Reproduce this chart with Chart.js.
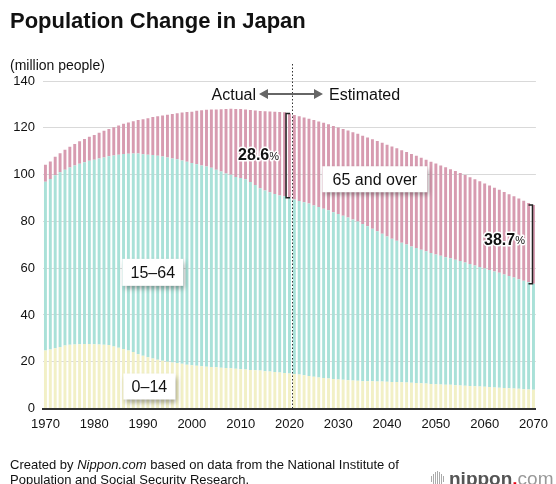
<!DOCTYPE html>
<html>
<head>
<meta charset="utf-8">
<script src="https://cdn.jsdelivr.net/npm/chart.js@4"></script>
<style>
  body { margin: 0; background: #fff; }
  #wrap { position: relative; width: 556px; height: 484px; overflow: hidden; font-family: 'Liberation Sans', Arial, Helvetica, sans-serif; color: #111; }
  #c { position: absolute; left: 0; top: 0; }
  .title { position: absolute; left: 10px; top: 10px; font-size: 22px; line-height: 22px; font-weight: bold; }
  .unit { position: absolute; left: 10px; top: 58px; font-size: 14px; line-height: 14px; }
  .src { position: absolute; left: 10px; top: 457px; font-size: 13px; line-height: 15px; }
  .logo { position: absolute; left: 449px; top: 469px; font-size: 19px; line-height: 19px; color: #555; white-space: nowrap; }
  .logo b { font-weight: bold; }
  .logo .dot { color: #e60012; font-weight: bold; }
  .logo .com { color: #999; }
  .icon { position: absolute; left: 431px; top: 471px; height: 16px; }
  .icon span { position: absolute; bottom: 0; width: 1px; background: #aaa; }
</style>
</head>
<body>
<div id="wrap">
  <canvas id="c" width="556" height="484"></canvas>
  <div class="title">Population Change in Japan</div>
  <div class="unit">(million people)</div>
  <div class="src">Created by <i>Nippon.com</i> based on data from the National Institute of<br>Population and Social Security Research.</div>
  <div class="icon">
    <span style="left:0;height:6px;bottom:5px"></span>
    <span style="left:2px;height:10px;bottom:3px"></span>
    <span style="left:4px;height:14px;bottom:1px"></span>
    <span style="left:6px;height:16px;bottom:0"></span>
    <span style="left:8px;height:14px;bottom:1px"></span>
    <span style="left:10px;height:10px;bottom:3px"></span>
    <span style="left:12px;height:6px;bottom:5px"></span>
  </div>
  <div class="logo"><b>nippon</b><span class="dot">.</span><span class="com">com</span></div>
</div>
<script>
// 1970 .. 2070, one bar per year
const years = [];
for (let yr = 1970; yr <= 2070; yr++) years.push(yr);

const tickLabels = ['1970', '1980', '1990', '2000', '2010', '2020', '2030', '2040', '2050', '2060', '2070'];

// million people
const age0to14 = [
  24.8, 25.2, 25.8, 26.3, 26.9, 27.2, 27.4, 27.5, 27.6, 27.6,
  27.5, 27.4, 27.3, 27.1, 26.5, 26.0, 25.4, 24.8, 24.2, 23.2,
  22.5, 21.9, 21.4, 20.8, 20.4, 20.0, 19.7, 19.4, 19.1, 18.7,
  18.5, 18.3, 18.1, 17.9, 17.7, 17.6, 17.4, 17.3, 17.2, 17.0,
  16.8, 16.7, 16.5, 16.4, 16.2, 15.9, 15.8, 15.6, 15.4, 15.2,
  15.0, 14.8, 14.5, 14.2, 13.9, 13.6, 13.3, 13.0, 12.8, 12.6,
  12.4, 12.3, 12.1, 12.0, 11.9, 11.7, 11.7, 11.6, 11.5, 11.5,
  11.4, 11.3, 11.3, 11.2, 11.1, 11.0, 10.9, 10.8, 10.7, 10.5,
  10.4, 10.3, 10.2, 10.1, 9.9, 9.8, 9.7, 9.6, 9.5, 9.4,
  9.3, 9.2, 9.0, 8.9, 8.8, 8.7, 8.5, 8.4, 8.2, 8.1,
  8.0
];
const age15to64 = [
  72.1, 72.9, 73.9, 74.7, 75.2, 75.8, 76.5, 77.1, 77.7, 78.3,
  78.8, 79.5, 80.0, 80.7, 81.6, 82.5, 83.4, 84.1, 84.8, 85.8,
  86.2, 86.6, 87.0, 87.2, 87.3, 87.3, 87.2, 87.1, 86.9, 86.8,
  86.4, 86.1, 85.8, 85.5, 85.2, 84.5, 83.9, 83.2, 82.7, 82.0,
  81.7, 81.3, 80.3, 79.1, 78.0, 77.3, 76.6, 76.1, 75.7, 75.5,
  75.1, 74.5, 74.2, 74.0, 73.7, 73.2, 72.8, 72.4, 71.9, 71.3,
  70.7, 70.1, 69.5, 68.8, 68.0, 67.2, 66.2, 65.2, 64.3, 63.2,
  62.1, 61.3, 60.4, 59.7, 59.0, 58.3, 57.7, 57.1, 56.5, 56.0,
  55.4, 55.0, 54.5, 54.1, 53.7, 53.3, 52.7, 52.2, 51.6, 51.1,
  50.5, 50.0, 49.6, 49.1, 48.5, 47.9, 47.5, 46.9, 46.4, 45.9,
  45.3
];
const age65plus = [
  7.3, 7.5, 7.9, 8.1, 8.5, 8.9, 9.2, 9.6, 9.9, 10.3,
  10.6, 11.0, 11.4, 11.7, 12.1, 12.5, 12.9, 13.4, 13.8, 14.3,
  14.9, 15.6, 16.2, 16.9, 17.6, 18.3, 19.0, 19.7, 20.5, 21.2,
  22.0, 22.9, 23.6, 24.3, 24.9, 25.7, 26.6, 27.5, 28.2, 29.0,
  29.5, 29.8, 30.8, 31.9, 33.0, 33.9, 34.6, 35.2, 35.6, 35.9,
  36.0, 36.2, 36.2, 36.2, 36.3, 36.5, 36.6, 36.7, 36.8, 36.9,
  37.0, 37.1, 37.2, 37.3, 37.5, 37.7, 38.0, 38.3, 38.6, 38.9,
  39.3, 39.4, 39.5, 39.5, 39.5, 39.5, 39.4, 39.3, 39.1, 39.0,
  38.9, 38.6, 38.4, 38.1, 37.9, 37.6, 37.4, 37.1, 36.9, 36.6,
  36.4, 36.1, 35.8, 35.5, 35.2, 35.0, 34.7, 34.5, 34.2, 33.9,
  33.7
];

// share of 65+ shown next to the brackets
const shareLabels = { 2020: '28.6', 2070: '38.7' };

Chart.defaults.font.family = "'Liberation Sans', Arial, Helvetica, sans-serif";

function labelBox(ctx, text, cx, cy, w, h) {
  ctx.save();
  ctx.shadowColor = 'rgba(0,0,0,0.35)';
  ctx.shadowBlur = 5;
  ctx.shadowOffsetX = 2;
  ctx.shadowOffsetY = 3;
  ctx.fillStyle = '#fff';
  ctx.fillRect(cx - w / 2, cy - h / 2, w, h);
  ctx.restore();
  ctx.fillStyle = '#111';
  ctx.font = "16px 'Liberation Sans', Arial, sans-serif";
  ctx.textAlign = 'center';
  ctx.textBaseline = 'middle';
  ctx.fillText(text, cx, cy + 1);
}

function share(ctx, num, right, cy) {
  ctx.textBaseline = 'middle';
  ctx.textAlign = 'right';
  ctx.lineJoin = 'round';
  ctx.strokeStyle = '#fff';
  ctx.lineWidth = 3;
  ctx.fillStyle = '#111';
  ctx.font = "11px 'Liberation Sans', Arial, sans-serif";
  const pw = ctx.measureText('%').width;
  ctx.strokeText('%', right, cy + 1);
  ctx.fillText('%', right, cy + 1);
  ctx.font = "bold 16px 'Liberation Sans', Arial, sans-serif";
  ctx.strokeText(num, right - pw, cy);
  ctx.fillText(num, right - pw, cy);
}

const annotations = {
  id: 'annotations',
  afterDatasetsDraw(chart) {
    const { ctx, chartArea: a, scales: { x, y } } = chart;
    const i20 = years.indexOf(2020), i70 = years.indexOf(2070);
    const slot = x.getPixelForValue(1) - x.getPixelForValue(0);
    const xDiv = Math.round(x.getPixelForValue(i20) + slot / 2) + 0.5;
    ctx.save();

    // actual / estimated divider
    ctx.strokeStyle = '#333';
    ctx.lineWidth = 1;
    ctx.setLineDash([1.5, 2]);
    ctx.beginPath();
    ctx.moveTo(xDiv, 64);
    ctx.lineTo(xDiv, a.bottom);
    ctx.stroke();
    ctx.setLineDash([]);

    // double arrow
    const ay = 94, l = xDiv - 33.5, r = xDiv + 30.5;
    ctx.strokeStyle = '#666';
    ctx.fillStyle = '#666';
    ctx.lineWidth = 2;
    ctx.beginPath();
    ctx.moveTo(l + 6, ay);
    ctx.lineTo(r - 6, ay);
    ctx.stroke();
    ctx.beginPath();
    ctx.moveTo(l, ay); ctx.lineTo(l + 9, ay - 5); ctx.lineTo(l + 9, ay + 5); ctx.closePath();
    ctx.moveTo(r, ay); ctx.lineTo(r - 9, ay - 5); ctx.lineTo(r - 9, ay + 5); ctx.closePath();
    ctx.fill();

    ctx.fillStyle = '#111';
    ctx.font = "16px 'Liberation Sans', Arial, sans-serif";
    ctx.textBaseline = 'alphabetic';
    ctx.textAlign = 'right';
    ctx.fillText('Actual', xDiv - 36.5, 99.5);
    ctx.textAlign = 'left';
    ctx.fillText('Estimated', xDiv + 36.5, 99.5);

    // brackets for the 65+ share
    ctx.strokeStyle = '#222';
    ctx.lineWidth = 1.5;
    const t20 = y.getPixelForValue(age0to14[i20] + age15to64[i20] + age65plus[i20]);
    const b20 = y.getPixelForValue(age0to14[i20] + age15to64[i20]);
    const bx1 = x.getPixelForValue(i20) - slot * 0.7;
    ctx.beginPath();
    ctx.moveTo(bx1 + 4, t20); ctx.lineTo(bx1, t20); ctx.lineTo(bx1, b20); ctx.lineTo(bx1 + 4, b20);
    ctx.stroke();

    const t70 = y.getPixelForValue(age0to14[i70] + age15to64[i70] + age65plus[i70]);
    const b70 = y.getPixelForValue(age0to14[i70] + age15to64[i70]);
    const bx2 = x.getPixelForValue(i70) - 1;
    ctx.beginPath();
    ctx.moveTo(bx2 - 4, t70); ctx.lineTo(bx2, t70); ctx.lineTo(bx2, b70); ctx.lineTo(bx2 - 4, b70);
    ctx.stroke();

    share(ctx, shareLabels[2020], bx1 - 7, (t20 + b20) / 2);
    share(ctx, shareLabels[2070], bx2 - 7.5, (t70 + b70) / 2 - 4);

    // series labels
    labelBox(ctx, '65 and over', x.getPixelForValue(67.5), y.getPixelForValue(98), 105, 26);
    labelBox(ctx, '15–64', x.getPixelForValue(22), y.getPixelForValue(58.2), 61, 27);
    labelBox(ctx, '0–14', x.getPixelForValue(21.3), y.getPixelForValue(9.4), 52, 26);

    ctx.restore();
  }
};

new Chart(document.getElementById('c').getContext('2d'), {
  type: 'bar',
  data: {
    labels: years,
    datasets: [
      { label: '0–14', data: age0to14, backgroundColor: '#f2f0c6' },
      { label: '15–64', data: age15to64, backgroundColor: '#a9e1d8' },
      { label: '65 and over', data: age65plus, backgroundColor: '#d79bb0' }
    ]
  },
  options: {
    responsive: false,
    animation: false,
    devicePixelRatio: 1,
    datasets: { bar: { barPercentage: 0.6, categoryPercentage: 1, borderWidth: 0 } },
    layout: { padding: { top: 81, right: 13, bottom: 45.5, left: 0 } },
    plugins: { legend: { display: false }, tooltip: { enabled: false } },
    scales: {
      x: {
        stacked: true,
        grid: { display: false, drawTicks: false },
        border: { display: true, color: '#333', width: 2 },
        ticks: {
          autoSkip: false,
          maxRotation: 0,
          padding: 8,
          color: '#111',
          font: { size: 13 },
          callback: (v, i) => tickLabels.includes(String(years[i])) ? String(years[i]) : ''
        },
        afterFit(s) { s.height = 30; }
      },
      y: {
        stacked: true,
        min: 0,
        max: 140,
        ticks: { stepSize: 20, padding: 8, color: '#111', font: { size: 13 } },
        grid: { color: '#d9d9d9', drawTicks: false },
        border: { display: false },
        afterFit(s) { s.width = 43; }
      }
    }
  },
  plugins: [annotations]
});
</script>
</body>
</html>
